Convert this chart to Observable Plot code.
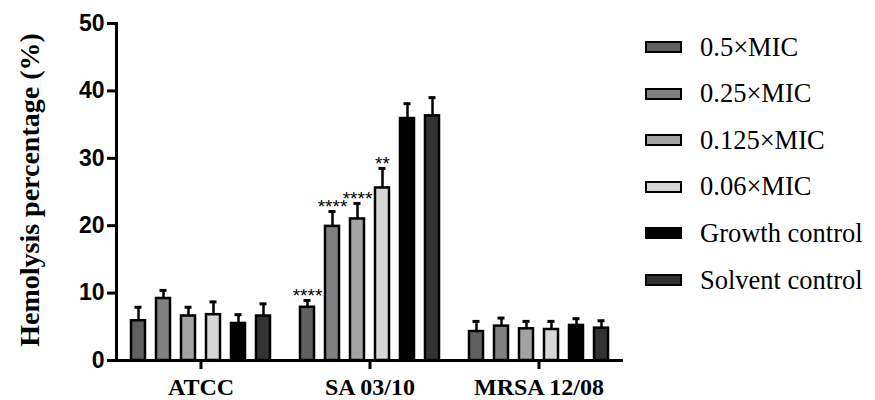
<!DOCTYPE html>
<html>
<head>
<meta charset="utf-8">
<script src="https://cdn.jsdelivr.net/npm/d3@7"></script>
<script src="https://cdn.jsdelivr.net/npm/@observablehq/plot@0.6"></script>
<style>
  html, body { margin: 0; padding: 0; background: #fff; }
  #wrap { position: relative; width: 875px; height: 400px; overflow: hidden; }
  #ylab { position: absolute; left: 30px; top: 190px; transform: translate(-50%, -50%) rotate(-90deg);
          font: bold 28px "Liberation Serif", "Times New Roman", serif; white-space: nowrap; color: #000; }
  #legend { position: absolute; left: 645px; top: 30px; }
  .item { position: absolute; left: 0; height: 34px; display: flex; align-items: center; white-space: nowrap;
          font: 26.5px "Liberation Serif", "Times New Roman", serif; color: #000; }
  .sw { width: 37px; height: 12px; box-sizing: border-box; border: 2.5px solid #000; margin-right: 18px; }
  #chart svg g[aria-label="y-axis tick label"] text { font-size: 23px; }
</style>
</head>
<body>
<div id="wrap">
  <div id="chart"></div>
  <div id="ylab">Hemolysis percentage (%)</div>
  <div id="legend"></div>
</div>
<script>
const groups = ["ATCC", "SA 03/10", "MRSA 12/08"];
const series = ["0.5×MIC", "0.25×MIC", "0.125×MIC", "0.06×MIC", "Growth control", "Solvent control"];
const colors = ["#606060", "#808080", "#a3a3a3", "#d6d6d6", "#000000", "#333333"];

const meanATCC = [5.9, 9.2, 6.6, 6.8, 5.5, 6.6];
const sdATCC   = [2.0, 1.2, 1.3, 1.9, 1.3, 1.8];
const meanSA   = [7.9, 19.9, 21.0, 25.6, 35.9, 36.3];
const sdSA     = [1.0, 2.2, 2.3, 2.9, 2.2, 2.7];
const meanMRSA = [4.3, 5.1, 4.7, 4.6, 5.2, 4.8];
const sdMRSA   = [1.5, 1.2, 1.1, 1.2, 1.0, 1.1];
const sigSA    = ["****", "****", "****", "**", "", ""];
const yTicks   = [0, 10, 20, 30, 40, 50];

const means = [meanATCC, meanSA, meanMRSA];
const sds = [sdATCC, sdSA, sdMRSA];
const data = [];
groups.forEach((g, gi) => series.forEach((s, si) => data.push({
  group: g, series: s, value: means[gi][si], sd: sds[gi][si],
  top: means[gi][si] + sds[gi][si], sig: gi === 1 ? sigSA[si] : ""
})));

const plot = Plot.plot({
  width: 875,
  height: 400,
  marginLeft: 116,
  marginRight: 252,
  marginTop: 23,
  marginBottom: 40,
  fx: { domain: groups, padding: 0, label: null },
  x: { domain: series, axis: null, paddingInner: 0.44, paddingOuter: 0.6 },
  y: { domain: [0, 50], axis: null },
  color: { domain: series, range: colors },
  style: { background: "transparent" },
  marks: [
    Plot.ruleX(data, { fx: "group", x: "series", y1: "value", y2: "top", stroke: "#000", strokeWidth: 2.5 }),
    Plot.tickY(data, { fx: "group", x: "series", y: "top", stroke: "#000", strokeWidth: 3, insetLeft: 3.5, insetRight: 3.5 }),
    Plot.barY(data, { fx: "group", x: "series", y: "value", fill: "series", stroke: "#000", strokeWidth: 2.5 }),
    Plot.text(data.filter(d => d.sig), { fx: "group", x: "series", y: "top", text: "sig", dy: -5,
      fontFamily: "Liberation Sans, Arial, sans-serif", fontSize: 19, fill: "#000" }),
    Plot.ruleY([0], { stroke: "#000", strokeWidth: 3 }),
    Plot.frame({ anchor: "left", facetAnchor: "left", stroke: "#000", strokeWidth: 3 }),
    Plot.axisY({ ticks: yTicks, tickSize: 9, tickPadding: 3, tickFormat: d => d, label: null,
      facetAnchor: "left", strokeWidth: 3, fontFamily: "Liberation Sans, Arial, sans-serif",
      fontSize: 23, fontWeight: "bold", fill: "#000", stroke: "#000" }),
    Plot.axisFx({ anchor: "bottom", tickSize: 9, tickPadding: 8, label: null, strokeWidth: 3,
      fontFamily: "Liberation Serif, Times New Roman, serif", fontSize: 24, fontWeight: "bold", fill: "#000", stroke: "#000" })
  ]
});
document.getElementById("chart").appendChild(plot);

const color = plot.scale("color");
const legend = document.getElementById("legend");
series.forEach((s, i) => {
  const item = document.createElement("div");
  item.className = "item";
  item.style.top = (i * 46.6) + "px";
  const sw = document.createElement("div");
  sw.className = "sw";
  sw.style.background = color.apply(s);
  const lab = document.createElement("span");
  lab.textContent = s;
  item.appendChild(sw);
  item.appendChild(lab);
  legend.appendChild(item);
});
</script>
</body>
</html>
